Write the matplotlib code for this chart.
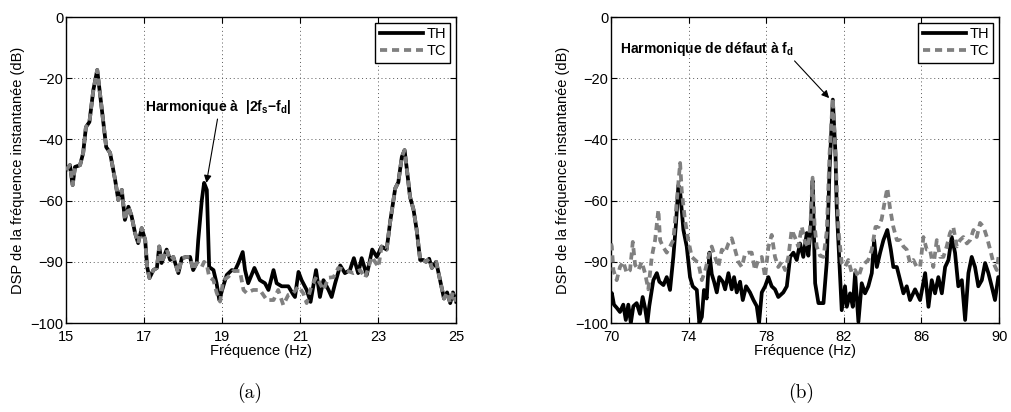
import matplotlib
matplotlib.use("Agg")
import matplotlib.pyplot as plt

# ---------------- data ----------------
# Panel (a): 15-25 Hz
freq_a_head = [15.00, 15.10, 15.17, 15.23, 15.36, 15.44, 15.51, 15.60, 15.70, 15.80,
               15.92, 16.03, 16.13, 16.26, 16.34, 16.43, 16.51, 16.60, 16.68, 16.77,
               16.85, 16.94, 17.03, 17.08, 17.14, 17.24, 17.33, 17.39, 17.45, 17.58,
               17.67, 17.75, 17.88, 17.97, 18.09, 18.18, 18.26, 18.35]
dsp_a_head = [-50, -48.4, -54.9, -49, -48.4, -44.4, -36, -34.3, -23.9, -17.3,
              -30.4, -42.5, -44.4, -53.3, -59.8, -56.5, -66.3, -62, -65, -70.6,
              -73.9, -69, -72.9, -81.7, -85.3, -82.7, -82, -75, -80.4, -76,
              -79.4, -78.4, -83.7, -78.8, -78.4, -78.4, -82.7, -80.4]

freq_a_th_mid = [18.39, 18.48, 18.54, 18.61, 18.67, 18.78, 18.86, 18.93, 19.03, 19.12,
                 19.25, 19.33, 19.42, 19.53, 19.59, 19.67, 19.83, 19.97, 20.10, 20.19,
                 20.32, 20.40, 20.53, 20.70, 20.83, 20.87, 20.96, 21.04, 21.17, 21.27,
                 21.41, 21.51, 21.60, 21.73, 21.81, 21.90, 22.03, 22.15, 22.28, 22.38,
                 22.49, 22.58, 22.71, 22.85, 22.97]
dsp_a_th_mid = [-72.9, -60, -54.2, -56.5, -81.7, -82.7, -87, -92.5, -88, -84.3,
                -82.7, -82.9, -80.4, -76.8, -82.7, -87, -82, -86, -87, -89.2,
                -82.7, -87, -88, -88, -90.8, -91.5, -83.3, -86, -89.2, -93.1,
                -82.7, -91.5, -86, -89.2, -91.5, -87, -81.2, -83.7, -82.7, -78.8,
                -83.7, -78.8, -84.3, -76, -78.4]

freq_a_tc_mid = [18.39, 18.48, 18.54, 18.61, 18.67, 18.78, 18.86, 18.95, 19.03, 19.16,
                 19.29, 19.46, 19.55, 19.63, 19.80, 19.97, 20.15, 20.32, 20.44, 20.57,
                 20.70, 20.83, 20.96, 21.08, 21.17, 21.29, 21.42, 21.60, 21.73, 21.86,
                 21.98, 22.20, 22.37, 22.54, 22.67, 22.84, 23.01]
dsp_a_tc_mid = [-81, -81.7, -80, -81, -84.9, -86, -90, -93, -86, -84.9,
                -83, -83, -89.2, -90.2, -89.2, -89.2, -92.5, -92.5, -89.2, -94.1,
                -90.8, -90.2, -88, -90.2, -93.5, -88, -84.9, -89.2, -85.2, -85,
                -82, -82.9, -83.7, -82.7, -85.2, -78.4, -81.7]

freq_a_tail = [23.09, 23.22, 23.31, 23.44, 23.52, 23.61, 23.68, 23.75, 23.82, 23.91,
               23.99, 24.08, 24.16, 24.23, 24.31, 24.38, 24.49, 24.59, 24.69, 24.77,
               24.85, 24.92, 25.00]
dsp_a_tail = [-75, -76, -67, -56, -54, -45.7, -43.5, -51, -58.8, -63,
              -69.6, -79.4, -79.4, -80, -79, -82, -80, -86, -92, -90,
              -93.5, -90, -93]

freq_a_th = freq_a_head + freq_a_th_mid + freq_a_tail
dsp_a_th = dsp_a_head + dsp_a_th_mid + dsp_a_tail
freq_a_tc = freq_a_head + freq_a_tc_mid + freq_a_tail
dsp_a_tc = dsp_a_head + dsp_a_tc_mid + dsp_a_tail

# Panel (b): 70-90 Hz
freq_b_th = [70.00, 70.04, 70.15, 70.29, 70.46, 70.63, 70.76, 70.89, 71.02, 71.15, 71.32,
             71.49, 71.63, 71.75, 71.87, 71.97, 72.18, 72.36, 72.49, 72.70, 72.87,
             73.04, 73.21, 73.35, 73.47, 73.56, 73.73, 73.90, 74.07, 74.21, 74.42,
             74.55, 74.68, 74.79, 74.93, 75.07, 75.19, 75.31, 75.45, 75.58, 75.76,
             75.88, 76.05, 76.22, 76.34, 76.48, 76.65, 76.79, 76.96, 77.16, 77.34,
             77.51, 77.63, 77.77, 77.94, 78.11, 78.28, 78.45, 78.62, 78.88, 79.06,
             79.23, 79.40, 79.57, 79.74, 79.91, 80.09, 80.17, 80.29, 80.39, 80.52,
             80.69, 80.95, 81.12, 81.26, 81.43, 81.57, 81.63, 81.80, 81.89, 82.06,
             82.15, 82.32, 82.46, 82.58, 82.75, 82.92, 83.09, 83.26, 83.44, 83.56,
             83.70, 83.87, 84.04, 84.24, 84.42, 84.55, 84.73, 84.90, 85.07, 85.24,
             85.41, 85.67, 85.93, 86.19, 86.36, 86.53, 86.70, 86.87, 87.05, 87.22,
             87.39, 87.56, 87.73, 87.90, 88.08, 88.25, 88.42, 88.59, 88.76, 88.93,
             89.11, 89.28, 89.45, 89.62, 89.79, 89.96, 90.00]
dsp_b_th = [-92, -90.2, -94, -95, -96.4, -94, -99, -94, -100, -94.5, -93.5,
            -97, -91.5, -95, -100, -94.5, -86, -83.7, -86.5, -87.6, -85,
            -89.2, -78.4, -67.3, -55, -57, -69.6, -75, -85, -88, -89.2,
            -100, -98, -89.2, -92, -77, -84, -86.5, -90, -85, -86.5,
            -89, -83.7, -89, -85, -90, -86.5, -92.5, -88, -90, -92.5,
            -94.5, -100, -90, -88, -85, -88, -89, -91.5, -90, -88,
            -78.4, -77, -79.4, -74, -78.4, -70.6, -78, -69, -53.5, -87,
            -93.5, -93.5, -80, -50, -27, -45, -62, -83.7, -95.8, -88,
            -94.7, -90.3, -94.7, -83.7, -99.6, -87, -90.3, -88, -83.7, -72.9,
            -81.7, -77, -72.9, -69.6, -76, -81.7, -81.7, -86, -90.3, -88,
            -92.5, -89, -92.5, -83.7, -94.7, -86, -90.3, -85, -90.3, -81.7,
            -79.4, -71.9, -77, -88, -86, -99, -83.7, -78.4, -81.7, -88,
            -86, -80.4, -83.7, -88, -92.5, -85, -85]

freq_b_tc = [70.00, 70.04, 70.12, 70.29, 70.46, 70.63, 70.81, 70.98, 71.12, 71.24, 71.41,
             71.58, 71.75, 71.92, 72.10, 72.27, 72.44, 72.53, 72.70, 72.87, 73.04,
             73.21, 73.39, 73.56, 73.64, 73.81, 73.98, 74.16, 74.33, 74.50, 74.68,
             74.85, 75.02, 75.19, 75.36, 75.53, 75.71, 75.88, 76.05, 76.22, 76.39,
             76.56, 76.74, 76.91, 77.08, 77.25, 77.42, 77.59, 77.77, 77.94, 78.11,
             78.28, 78.45, 78.62, 78.80, 78.97, 79.14, 79.31, 79.48, 79.65, 79.83,
             80.00, 80.17, 80.29, 80.39, 80.49, 80.60, 80.77, 80.95, 81.12, 81.26,
             81.43, 81.57, 81.72, 81.89, 82.06, 82.23, 82.41, 82.58, 82.75, 82.92,
             83.09, 83.26, 83.44, 83.63, 83.79, 83.95, 84.12, 84.24, 84.38, 84.55,
             84.73, 84.90, 85.07, 85.24, 85.41, 85.58, 85.76, 85.93, 86.10, 86.27,
             86.44, 86.61, 86.79, 86.96, 87.13, 87.30, 87.47, 87.64, 87.82, 87.99,
             88.16, 88.34, 88.51, 88.68, 88.85, 89.02, 89.20, 89.37, 89.54, 89.71,
             89.88, 90.00]
dsp_b_tc = [-74, -75, -82.7, -86, -81.7, -80, -83.7, -82.7, -73.5, -81, -82.7,
            -80, -83.7, -89, -78.4, -72.9, -63, -73, -75.3, -77, -75,
            -72.9, -60, -47.7, -56.5, -66.3, -72.9, -78.4, -79.4, -80.4, -86,
            -82.9, -78.4, -75, -78.4, -81.7, -76, -77, -74, -72.3, -76,
            -80, -81.7, -77.3, -77, -77, -82.7, -79.4, -78.4, -85, -75.2,
            -71.2, -78.4, -81.7, -80, -82.7, -78.4, -69.6, -72, -75, -68.5,
            -73.5, -75.3, -66, -52.5, -68, -75, -78, -78.4, -70, -45,
            -26.5, -45, -69.6, -80.4, -81.7, -79.4, -83.7, -82.7, -85, -81.7,
            -80.4, -79.4, -76, -68.6, -68.6, -66, -59.8, -55.9, -62.5, -68.6,
            -72.9, -72.9, -75, -76, -80.4, -79.4, -81.7, -81.7, -71.9, -76,
            -76, -81.7, -72.9, -78.4, -78.4, -75, -70.6, -68.6, -75, -72.9,
            -71.9, -74, -72.9, -69.6, -71.9, -67.3, -68.6, -71.9, -76, -80.4,
            -82.7, -77]

xticks_a = [15, 17, 19, 21, 23, 25]
xticks_b = [70, 74, 78, 82, 86, 90]
yticks = [0, -20, -40, -60, -80, -100]
ytick_labels = ['0', '\u221220', '\u221240', '\u221260', '\u221290', '\u2212100']
series_names = ['TH', 'TC']

# ---------------- style ----------------
plt.rcParams['font.family'] = ['Liberation Sans', 'DejaVu Sans']
plt.rcParams['mathtext.fontset'] = 'custom'
plt.rcParams['mathtext.rm'] = 'Liberation Sans'
plt.rcParams['mathtext.it'] = 'Liberation Sans:italic'
plt.rcParams['mathtext.bf'] = 'Liberation Sans:bold'

fig = plt.figure(figsize=(10.11, 4.12), dpi=100)
ax_a = fig.add_axes([0.0653, 0.216, 0.3858, 0.7427])
ax_b = fig.add_axes([0.6044, 0.216, 0.3838, 0.7427])

lw = 2.7
for ax, fth, vth, ftc, vtc, xt in [
        (ax_a, freq_a_th, dsp_a_th, freq_a_tc, dsp_a_tc, xticks_a),
        (ax_b, freq_b_th, dsp_b_th, freq_b_tc, dsp_b_tc, xticks_b)]:
    ax.plot(fth, vth, color='black', lw=lw, label=series_names[0],
            solid_joinstyle='round', zorder=3)
    ax.plot(ftc, vtc, color='#808080', lw=lw, dashes=(1.9, 1.3),
            label=series_names[1], zorder=4)
    ax.set_xlim(xt[0], xt[-1])
    ax.set_ylim(-100, 0)
    ax.set_xticks(xt)
    ax.set_xticklabels([str(t) for t in xt])
    ax.set_yticks(yticks)
    ax.set_yticklabels(ytick_labels)
    ax.tick_params(direction='in', length=4, width=0.8, top=True, right=True,
                   labelsize=10.5, colors='black')
    ax.tick_params(axis='x', pad=5)
    ax.tick_params(axis='y', pad=2)
    ax.grid(True, linestyle=(0, (1, 3)), color='0.35', linewidth=0.7, zorder=0)
    for s in ax.spines.values():
        s.set_linewidth(1.0)
        s.set_color('black')
    ax.set_xlabel('Fréquence (Hz)', fontsize=10.5, labelpad=0)
    ax.set_ylabel('DSP de la fréquence instantanée (dB)', fontsize=10.5, labelpad=4)
    leg = ax.legend(loc='upper right', fontsize=10.5, frameon=True, fancybox=False,
                    edgecolor='black', framealpha=1, handlelength=3.0,
                    handletextpad=0.2, borderpad=0.3, borderaxespad=0.4,
                    labelspacing=0.2)
    leg.get_frame().set_linewidth(1.0)

ax_a.annotate('Harmonique à  |2f$_\\mathbf{s}$\u2212f$_\\mathbf{d}$|',
              xy=(18.6, -54.2), xytext=(17.02, -29.5),
              fontsize=10, fontweight='bold', va='center', ha='left',
              arrowprops=dict(arrowstyle='-|>', lw=0.8, color='black',
                              mutation_scale=11, shrinkA=0, shrinkB=0,
                              relpos=(0.5, 0.0)))
ax_b.annotate('Harmonique de défaut à f$_\\mathbf{d}$',
              xy=(81.24, -26.5), xytext=(70.45, -10.5),
              fontsize=10, fontweight='bold', va='center', ha='left',
              arrowprops=dict(arrowstyle='-|>', lw=0.8, color='black',
                              mutation_scale=11, shrinkA=0, shrinkB=0,
                              relpos=(0.99, 0.0)))

fig.text(250 / 1011, 1 - 393 / 412, '(a)', family='cmr10', fontsize=14,
         ha='center', va='center')
fig.text(801 / 1011, 1 - 393 / 412, '(b)', family='cmr10', fontsize=14,
         ha='center', va='center')

fig.savefig('out.png', dpi=100)
